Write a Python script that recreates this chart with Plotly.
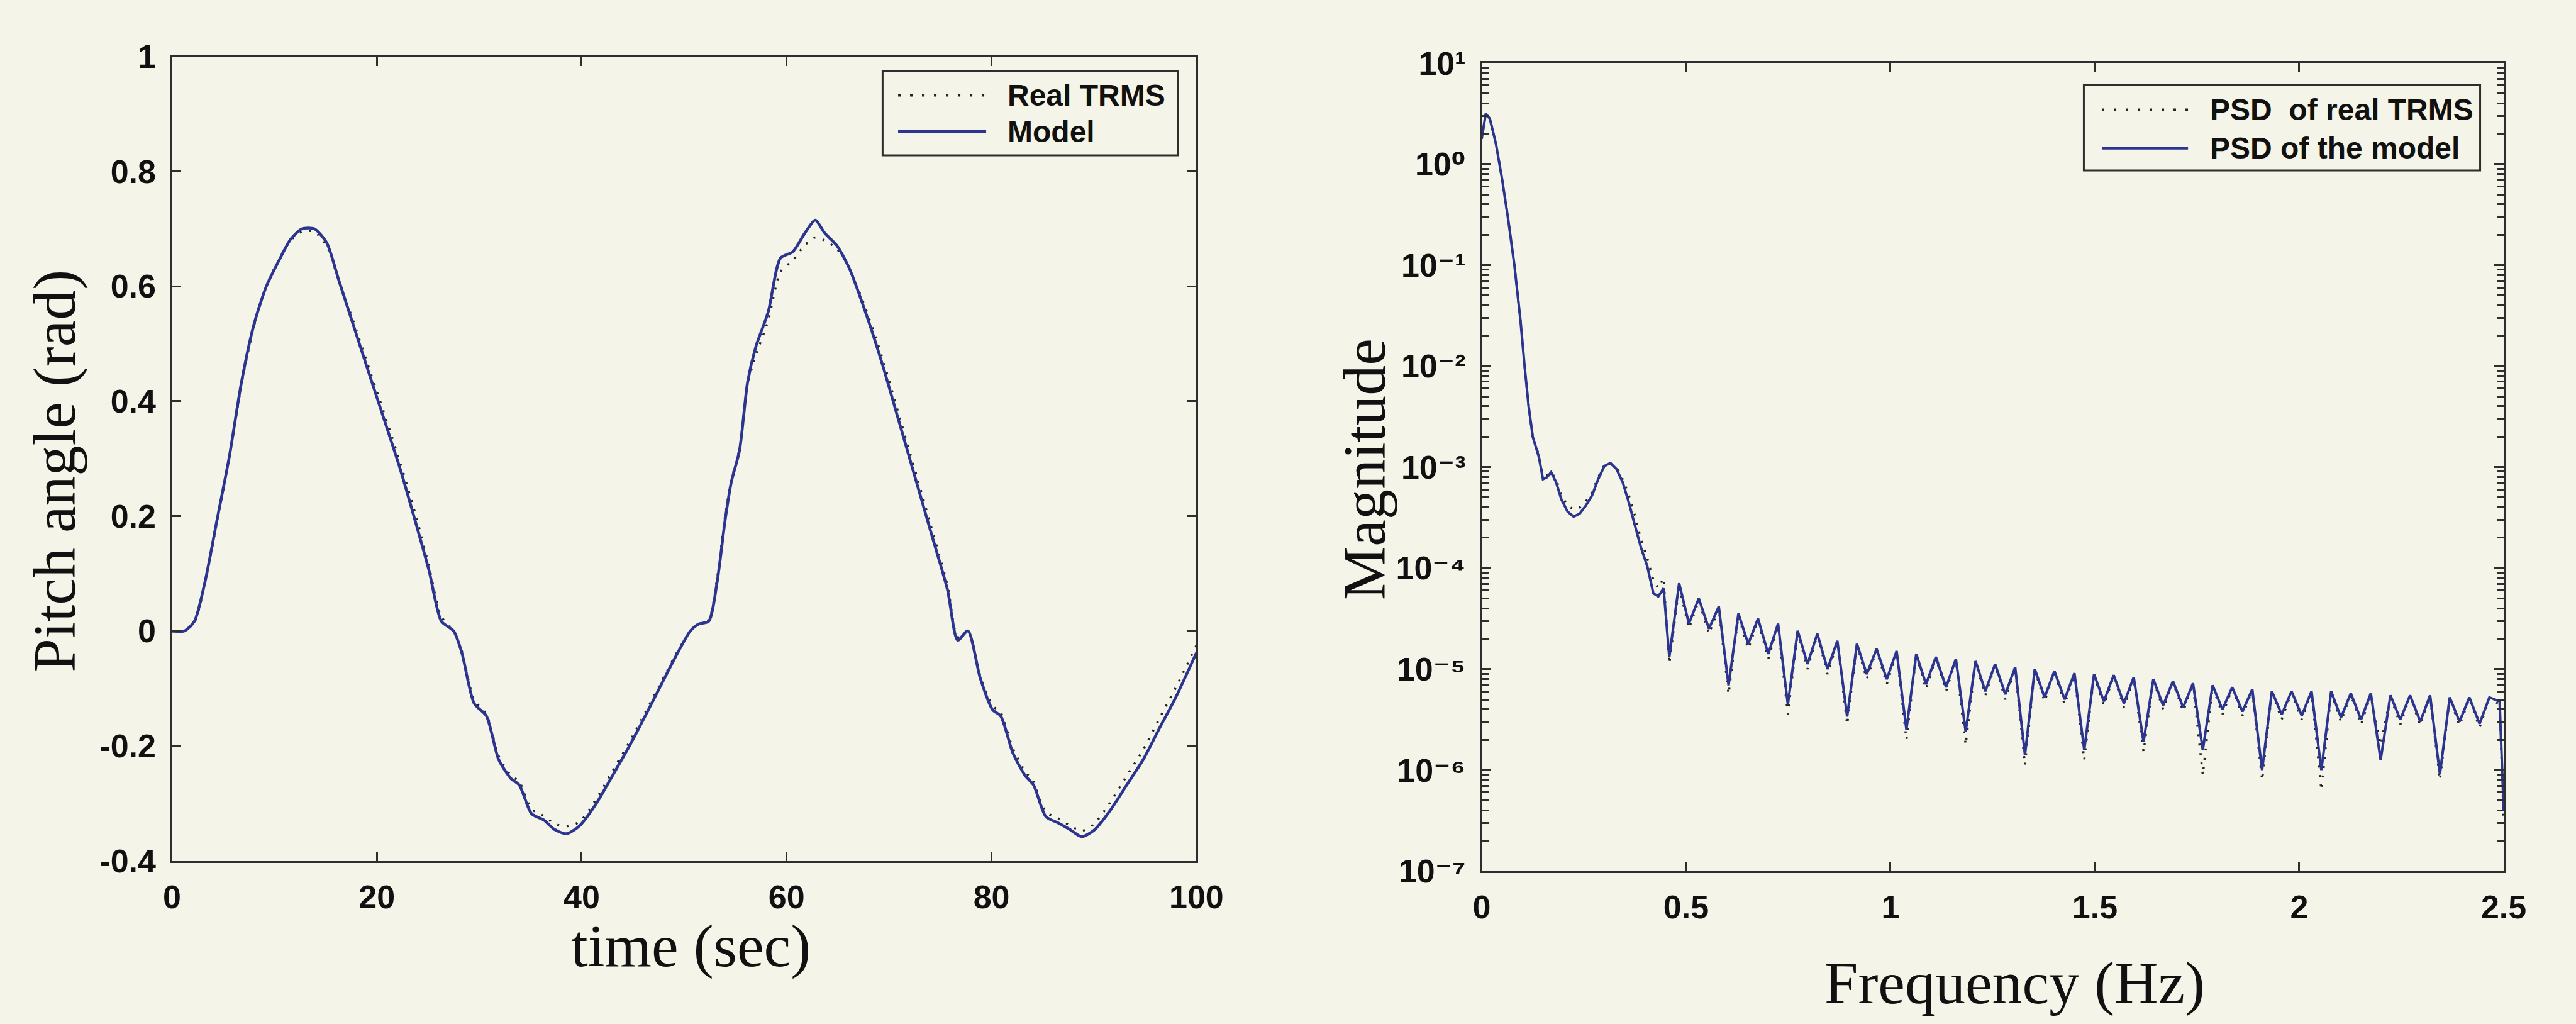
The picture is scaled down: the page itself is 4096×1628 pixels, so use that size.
import plotly.graph_objects as go

# ---------------- data: left panel (pitch angle) ----------------
time_s = [0, 1.2, 2.2, 3.2, 4.4, 5.6, 6.8, 8.0, 9.2, 10.4, 11.6, 12.7, 13.9, 15.1, 16.3, 17.5,
          19.1, 20.7, 22.3, 23.9, 25.1, 26.3, 27.5, 28.3, 29.5, 30.7, 31.9, 33.1, 33.9, 35.1,
          36.3, 37.3, 38.5, 39.8, 41.4, 43.0, 44.6, 46.2, 47.8, 49.4, 50.6, 51.4, 52.4, 53.2,
          54.0, 54.6, 55.4, 56.2, 57.0, 58.2, 59.4, 60.6, 61.8, 62.8, 63.7, 64.9, 66.1, 67.7,
          69.3, 70.9, 72.5, 74.1, 75.7, 76.7, 77.7, 78.9, 80.1, 80.9, 82.1, 83.3, 84.1, 85.3,
          86.5, 87.6, 88.8, 90.0, 91.6, 93.2, 94.8, 96.4, 98.0, 100]
pitch_model = [0.000, 0.000, 0.017, 0.083, 0.193, 0.303, 0.434, 0.533, 0.599, 0.643,
               0.682, 0.700, 0.700, 0.676, 0.610, 0.544, 0.456, 0.369, 0.281, 0.182,
               0.105, 0.017, 0.000, -0.038, -0.126, -0.148, -0.224, -0.257, -0.268, -0.318,
               -0.329, -0.345, -0.353, -0.339, -0.301, -0.252, -0.202, -0.148, -0.092, -0.037,
               0.000, 0.012, 0.017, 0.083, 0.193, 0.259, 0.314, 0.434, 0.495, 0.555,
               0.649, 0.660, 0.693, 0.715, 0.693, 0.671, 0.632, 0.555, 0.467, 0.369,
               0.270, 0.171, 0.072, -0.016, 0.000, -0.082, -0.137, -0.148, -0.213, -0.252,
               -0.268, -0.323, -0.334, -0.345, -0.358, -0.347, -0.312, -0.268, -0.224, -0.169,
               -0.115, -0.038]
pitch_real = [0.000, 0.000, 0.015, 0.080, 0.190, 0.300, 0.430, 0.530, 0.600, 0.645,
              0.680, 0.695, 0.695, 0.670, 0.610, 0.550, 0.465, 0.380, 0.292, 0.195,
              0.112, 0.025, 0.000, -0.035, -0.120, -0.145, -0.218, -0.252, -0.262, -0.310,
              -0.322, -0.335, -0.340, -0.332, -0.293, -0.244, -0.195, -0.142, -0.088, -0.034,
              0.000, 0.012, 0.020, 0.090, 0.200, 0.262, 0.318, 0.430, 0.480, 0.540,
              0.625, 0.645, 0.672, 0.685, 0.680, 0.665, 0.632, 0.562, 0.478, 0.380,
              0.282, 0.182, 0.080, -0.010, 0.000, -0.078, -0.130, -0.142, -0.205, -0.245,
              -0.262, -0.315, -0.326, -0.338, -0.348, -0.336, -0.298, -0.252, -0.207, -0.152,
              -0.098, -0.025]

# ---------------- data: right panel (PSD, log10 of magnitude) ----------------
psd_freq = [0.000, 0.010, 0.020, 0.035, 0.050, 0.065, 0.080, 0.095, 0.105, 0.115,
            0.125, 0.140, 0.150, 0.160, 0.170, 0.182, 0.195, 0.210, 0.225, 0.240,
            0.255, 0.270, 0.285, 0.300, 0.315, 0.330, 0.345, 0.360, 0.375, 0.390,
            0.405, 0.420, 0.432, 0.445,
            0.459, 0.483, 0.507, 0.531, 0.556, 0.580,
            0.604, 0.628, 0.652, 0.676, 0.701, 0.725,
            0.749, 0.773, 0.797, 0.821, 0.846, 0.870,
            0.894, 0.918, 0.942, 0.966, 0.991, 1.015,
            1.039, 1.063, 1.087, 1.111, 1.136, 1.160,
            1.184, 1.208, 1.232, 1.256, 1.281, 1.305,
            1.329, 1.353, 1.377, 1.401, 1.426, 1.450,
            1.474, 1.498, 1.522, 1.546, 1.571, 1.595,
            1.619, 1.643, 1.667, 1.691, 1.716, 1.740,
            1.764, 1.788, 1.812, 1.836, 1.861, 1.885,
            1.909, 1.933, 1.957, 1.981, 2.006, 2.030,
            2.054, 2.078, 2.102, 2.126, 2.151, 2.175,
            2.199, 2.223, 2.247, 2.271, 2.296, 2.320,
            2.344, 2.368, 2.392, 2.416, 2.441, 2.465,
            2.490, 2.500]
psd_model_log10 = [0.25, 0.50, 0.45, 0.20, -0.15, -0.55, -1.00, -1.55, -2.00, -2.40,
                   -2.70, -2.90, -3.12, -3.10, -3.05, -3.15, -3.32, -3.44, -3.49, -3.46,
                   -3.38, -3.28, -3.12, -2.99, -2.96, -3.02, -3.15, -3.35, -3.58, -3.80,
                   -3.98, -4.25, -4.28, -4.20,
                   -4.88, -4.15, -4.55, -4.30, -4.60, -4.38,
                   -5.16, -4.45, -4.75, -4.50, -4.85, -4.55,
                   -5.35, -4.62, -4.95, -4.65, -5.00, -4.72,
                   -5.47, -4.75, -5.05, -4.80, -5.10, -4.82,
                   -5.60, -4.85, -5.15, -4.88, -5.18, -4.90,
                   -5.62, -4.92, -5.22, -4.95, -5.25, -4.98,
                   -5.85, -5.00, -5.28, -5.02, -5.30, -5.04,
                   -5.80, -5.05, -5.32, -5.06, -5.34, -5.08,
                   -5.72, -5.10, -5.36, -5.12, -5.38, -5.14,
                   -5.80, -5.16, -5.40, -5.18, -5.42, -5.20,
                   -6.00, -5.22, -5.45, -5.22, -5.46, -5.22,
                   -6.00, -5.22, -5.48, -5.24, -5.50, -5.24,
                   -5.90, -5.26, -5.50, -5.26, -5.52, -5.26,
                   -6.04, -5.28, -5.52, -5.28, -5.54, -5.28,
                   -5.32, -6.40]
psd_real_log10 = [0.25, 0.50, 0.45, 0.20, -0.15, -0.55, -1.00, -1.55, -2.00, -2.40,
                  -2.70, -2.88, -3.08, -3.08, -3.05, -3.12, -3.28, -3.38, -3.42, -3.40,
                  -3.34, -3.25, -3.10, -2.98, -2.97, -3.00, -3.12, -3.28, -3.48, -3.72,
                  -3.90, -4.12, -4.20, -4.10,
                  -4.95, -4.18, -4.60, -4.32, -4.65, -4.40,
                  -5.25, -4.47, -4.80, -4.52, -4.90, -4.57,
                  -5.45, -4.63, -5.00, -4.66, -5.05, -4.73,
                  -5.55, -4.76, -5.10, -4.81, -5.15, -4.83,
                  -5.70, -4.86, -5.20, -4.89, -5.22, -4.91,
                  -5.75, -4.93, -5.26, -4.96, -5.30, -4.99,
                  -5.95, -5.01, -5.32, -5.03, -5.35, -5.05,
                  -5.90, -5.06, -5.36, -5.07, -5.38, -5.09,
                  -5.82, -5.11, -5.40, -5.13, -5.42, -5.15,
                  -6.05, -5.17, -5.45, -5.19, -5.46, -5.21,
                  -6.10, -5.23, -5.50, -5.23, -5.50, -5.23,
                  -6.20, -5.23, -5.52, -5.25, -5.55, -5.25,
                  -5.75, -5.27, -5.55, -5.27, -5.56, -5.27,
                  -6.10, -5.29, -5.56, -5.29, -5.58, -5.29,
                  -5.35, -6.50]
psd_model = [10 ** v for v in psd_model_log10]
psd_real = [10 ** v for v in psd_real_log10]

left_yticks = [1, 0.8, 0.6, 0.4, 0.2, 0, -0.2, -0.4]
left_yticklabels = ["1", "0.8", "0.6", "0.4", "0.2", "0", "-0.2", "-0.4"]
left_xticks = [0, 20, 40, 60, 80, 100]
right_xticks = [0, 0.5, 1, 1.5, 2, 2.5]
right_xticklabels = ["0", "0.5", "1", "1.5", "2", "2.5"]
right_yticks = [10, 1, 0.1, 0.01, 1e-3, 1e-4, 1e-5, 1e-6, 1e-7]
right_yticklabels = ["10\u00b9", "10\u2070", "10\u207b\u00b9", "10\u207b\u00b2", "10\u207b\u00b3",
                     "10\u207b\u2074", "10\u207b\u2075", "10\u207b\u2076", "10\u207b\u2077"]
right_yminor = [k * 10.0 ** e for e in range(-7, 1) for k in range(2, 10)]

# ---------------- styling ----------------
W, H = 4096, 1628
BG = "#f5f4e8"
AX = "#2e2e2e"
BLUE = "#2b3590"
SANS = "Liberation Sans, Arimo, DejaVu Sans, sans-serif"
SERIF = "Liberation Serif, Times New Roman, serif"
TICKFONT = dict(family=SANS, size=52, color="#111", weight="bold")


def px(x):
    return x / W


def py(y):
    return 1 - y / H


fig = go.Figure()
fig.add_trace(go.Scatter(x=time_s, y=pitch_real, mode="lines", name="Real TRMS",
                         line=dict(color="#222", width=3.5, dash="3px,12px", shape="spline", smoothing=0.7),
                         xaxis="x", yaxis="y", showlegend=False))
fig.add_trace(go.Scatter(x=time_s, y=pitch_model, mode="lines", name="Model",
                         line=dict(color=BLUE, width=4.5, shape="spline", smoothing=0.7),
                         xaxis="x", yaxis="y", showlegend=False))
fig.add_trace(go.Scatter(x=psd_freq, y=psd_real, mode="lines", name="PSD  of real TRMS",
                         line=dict(color="#222", width=3.5, dash="3px,12px"),
                         xaxis="x2", yaxis="y2", showlegend=False))
fig.add_trace(go.Scatter(x=psd_freq, y=psd_model, mode="lines", name="PSD of the model",
                         line=dict(color=BLUE, width=4),
                         xaxis="x2", yaxis="y2", showlegend=False))
# empty helper trace so the tick-only overlay axis (minor log ticks) is rendered
fig.add_trace(go.Scatter(x=[psd_freq[0]], y=[psd_model[0]], mode="lines", line=dict(width=0),
                         xaxis="x2", yaxis="y3", showlegend=False, hoverinfo="skip"))

axis_common = dict(showline=True, linecolor=AX, linewidth=3, mirror="ticks", ticks="inside",
                   ticklen=15, tickwidth=2.5, tickcolor=AX, showgrid=False, zeroline=False,
                   tickfont=TICKFONT)

fig.update_layout(
    width=W, height=H, margin=dict(l=0, r=0, t=0, b=0),
    paper_bgcolor=BG, plot_bgcolor=BG, showlegend=False,
    xaxis=dict(domain=[px(263), px(1915)], anchor="y", range=[0, 100],
               tickmode="array", tickvals=left_xticks, ticklabelstandoff=10, **axis_common),
    yaxis=dict(domain=[py(1389), py(63)], anchor="x", range=[-0.4, 1],
               tickmode="array", tickvals=left_yticks, ticktext=left_yticklabels,
               ticklabelstandoff=12, **axis_common),
    xaxis2=dict(domain=[px(2375), px(4023)], anchor="y2", range=[0, 2.5],
                tickmode="array", tickvals=right_xticks, ticktext=right_xticklabels,
                ticklabelstandoff=10, **axis_common),
    yaxis2=dict(domain=[py(1406), py(74)], anchor="x2", type="log", range=[-7, 1],
                tickmode="array", tickvals=right_yticks, ticktext=right_yticklabels,
                ticklabelstandoff=12, **axis_common),
    # minor (2..9 x 10^k) ticks of the log axis, drawn by an overlaid tick-only axis
    yaxis3=dict(overlaying="y2", anchor="x2", type="log", range=[-7, 1],
                tickmode="array", tickvals=right_yminor, showticklabels=False,
                ticks="inside", ticklen=11, tickwidth=2.5, tickcolor=AX,
                showline=True, linecolor=AX, linewidth=3, mirror="ticks",
                showgrid=False, zeroline=False),
)

# axis titles
titles = [
    dict(text="Pitch angle (rad)", x=px(73), y=py(746), textangle=-90),
    dict(text="time (sec)", x=px(1100), y=py(1529), textangle=0),
    dict(text="Magnitude", x=px(2186), y=py(744), textangle=-90),
    dict(text="Frequency (Hz)", x=px(3235), y=py(1590), textangle=0),
]
for t in titles:
    fig.add_annotation(xref="paper", yref="paper", showarrow=False, xanchor="center",
                       yanchor="middle", font=dict(family=SERIF, size=96, color="#111"), **t)

# legends (drawn as boxes with sample lines and text)
legends = [
    dict(box=(1409, 87, 1885, 226), x0=1434, x1=1576, tx=1608,
         rows=[(127, "Real TRMS", "dot"), (187, "Model", "solid")]),
    dict(box=(3346, 110, 3985, 251), x0=3375, x1=3514, tx=3547,
         rows=[(151, "PSD\u00a0 of real TRMS", "dot"), (214, "PSD of the model", "solid")]),
]
for lg in legends:
    bx0, by0, bx1, by1 = lg["box"]
    fig.add_shape(type="rect", xref="paper", yref="paper", x0=px(bx0), x1=px(bx1),
                  y0=py(by1), y1=py(by0), line=dict(color=AX, width=3), fillcolor=BG, layer="above")
    for ry, label, style in lg["rows"]:
        if style == "dot":
            ln = dict(color="#222", width=4, dash="4px,15px")
        else:
            ln = dict(color=BLUE, width=4.5)
        fig.add_shape(type="line", xref="paper", yref="paper", x0=px(lg["x0"]), x1=px(lg["x1"]),
                      y0=py(ry), y1=py(ry), line=ln, layer="above")
        fig.add_annotation(xref="paper", yref="paper", x=px(lg["tx"]), y=py(ry), text=label,
                           showarrow=False, xanchor="left", yanchor="middle",
                           font=dict(family=SANS, size=48, color="#111", weight="bold"))

fig.write_html("out.html")
